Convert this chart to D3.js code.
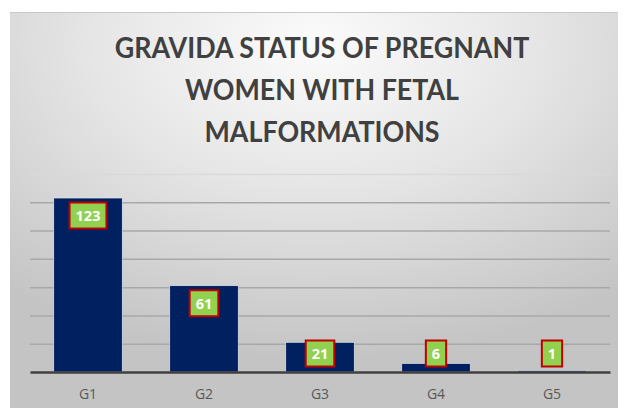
<!DOCTYPE html>
<head>
  <meta charset="utf-8">
  <script src="https://d3js.org/d3.v7.min.js"></script>
  <style>
    body { margin:0; background:#fff; }
  </style>
</head>
<body>
  <script>
    var categories = ["G1", "G2", "G3", "G4", "G5"];
    var values = [123, 61, 21, 6, 1];
    var yTicks = [0, 20, 40, 60, 80, 100, 120, 140];
    var titleLines = ["GRAVIDA STATUS OF PREGNANT", "WOMEN WITH FETAL", "MALFORMATIONS"];

    var W = 625, H = 408;
    var margin = { top: 174, right: 15, bottom: 36, left: 30 };
    var width = W - margin.left - margin.right;
    var height = H - margin.top - margin.bottom;

    var svg = d3.select("body").append("svg")
      .attr("width", W)
      .attr("height", H);

    // background panel with soft radial gradient
    var defs = svg.append("defs");
    var grad = defs.append("radialGradient")
      .attr("id", "bg")
      .attr("cx", "50%").attr("cy", "8%")
      .attr("r", "80%");
    grad.append("stop").attr("offset", "0%").attr("stop-color", "#fbfbfb");
    grad.append("stop").attr("offset", "45%").attr("stop-color", "#e6e6e6");
    grad.append("stop").attr("offset", "100%").attr("stop-color", "#c4c4c4");

    svg.append("rect")
      .attr("x", 10).attr("y", 12)
      .attr("width", 608).attr("height", H - 12)
      .style("fill", "url(#bg)");
    svg.append("line")
      .attr("x1", 10).attr("x2", 618).attr("y1", 12.5).attr("y2", 12.5)
      .style("stroke", "#c8c8c8");

    // title (squeezed a bit, the original face is narrow)
    svg.append("g").selectAll("text")
      .data(titleLines)
      .join("text")
      .attr("x", 322)
      .attr("y", function(d, i) { return 58 + i * 42; })
      .attr("text-anchor", "middle")
      .style("font-family", "Lato, sans-serif")
      .style("font-weight", "bold")
      .style("font-size", "29px")
      .style("fill", "#404040")
      .text(function(d) { return d; })
      .each(function() {
        var len = this.getComputedTextLength();
        d3.select(this)
          .attr("textLength", len * 0.925)
          .attr("lengthAdjust", "spacingAndGlyphs");
      });

    var g = svg.append("g")
      .attr("transform", "translate(" + margin.left + "," + margin.top + ")");

    var x = d3.scaleBand()
      .domain(categories)
      .range([0, width])
      .paddingInner(0.41)
      .paddingOuter(0.205);

    var y = d3.scaleLinear()
      .domain([0, 140])
      .range([height, 0]);

    // gridlines
    g.append("g")
      .call(d3.axisLeft(y).tickValues(yTicks.slice(1)).tickSize(-width).tickFormat(""))
      .call(function(s) {
        s.select(".domain").remove();
        s.selectAll(".tick line")
          .style("stroke", function(d) { return d === 140 ? "#d9d9d9" : "#a8a8a8"; })
          .style("stroke-width", 1.5);
      });

    // bars
    g.selectAll(".bar")
      .data(values)
      .join("rect")
      .attr("class", "bar")
      .attr("x", function(d, i) { return x(categories[i]); })
      .attr("y", function(d) { return y(d); })
      .attr("width", x.bandwidth())
      .attr("height", function(d) { return height - y(d); })
      .style("fill", "#002060")
      .style("stroke", "#e8ecf4")
      .style("stroke-width", 0.6);

    // x axis
    var xAxis = g.append("g")
      .attr("transform", "translate(0," + height + ")")
      .call(d3.axisBottom(x).tickSize(0).tickPadding(17));
    xAxis.select(".domain")
      .style("stroke", "#404040")
      .style("stroke-width", 2.5);
    xAxis.selectAll("text")
      .style("font-family", "'Open Sans', sans-serif")
      .style("font-size", "14px")
      .style("fill", "#595959");

    // data labels
    var labels = g.selectAll(".lbl")
      .data(values)
      .join("g")
      .attr("class", "lbl")
      .attr("transform", function(d, i) {
        var top = Math.min(y(d) + 4.5, height - 31.5);
        return "translate(" + (x(categories[i]) + x.bandwidth() / 2) + "," + top + ")";
      });

    labels.append("text")
      .attr("y", 18.5)
      .attr("text-anchor", "middle")
      .style("font-family", "'Open Sans', sans-serif")
      .style("font-weight", "bold")
      .style("font-size", "14.5px")
      .style("fill", "#ffffff")
      .text(function(d) { return d; });

    labels.insert("rect", "text")
      .each(function() {
        var t = d3.select(this.parentNode).select("text").node();
        var w = t.getComputedTextLength() + 12;
        d3.select(this)
          .attr("x", -w / 2)
          .attr("y", 0)
          .attr("width", w)
          .attr("height", 26);
      })
      .style("fill", "#92d050")
      .style("stroke", "#c00000")
      .style("stroke-width", 2);
  </script>
</body>
